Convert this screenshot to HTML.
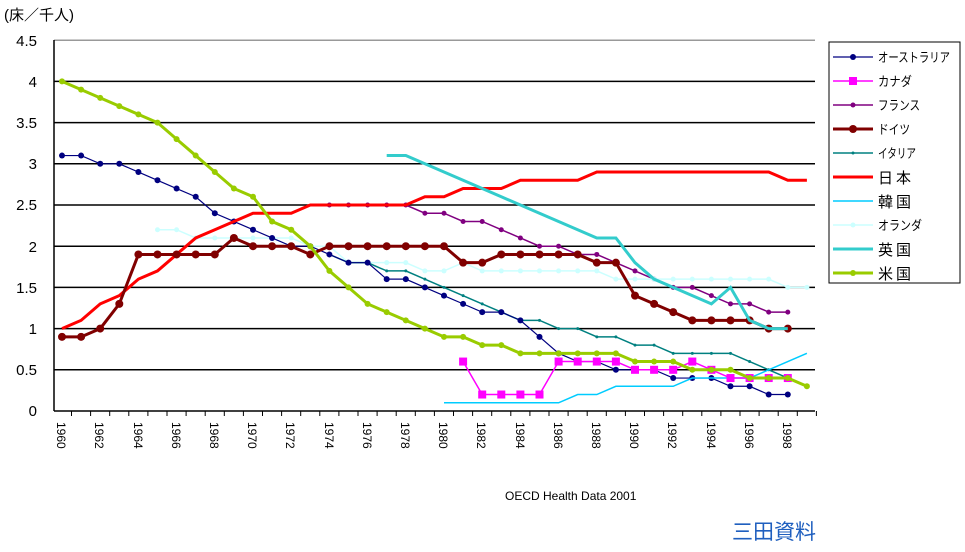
<!DOCTYPE html>
<html><head><meta charset="utf-8"><style>
body{margin:0;background:#fff;}
svg text{font-family:"Liberation Sans","Noto Sans CJK JP",sans-serif;}
</style></head><body>
<svg id="s" width="965" height="547" xmlns="http://www.w3.org/2000/svg">
<rect width="965" height="547" fill="#fff"/>
<text x="4" y="20" font-size="15">(床／千人)</text>
<g font-size="15" text-anchor="end">
<text x="37" y="46">4.5</text><text x="37" y="87">4</text><text x="37" y="128">3.5</text>
<text x="37" y="169">3</text><text x="37" y="210">2.5</text><text x="37" y="252">2</text>
<text x="37" y="293">1.5</text><text x="37" y="334">1</text><text x="37" y="375">0.5</text>
<text x="37" y="416">0</text>
</g>
<g id="grid"></g>
<g id="series"></g>
<text x="505" y="500" font-size="12">OECD Health Data 2001</text>
<text x="732" y="539" font-size="21" fill="#1f5fbf">三田資料</text>
<rect x="829" y="42" width="131" height="241" fill="#fff" stroke="#000" stroke-width="1"/>
<g id="leg"></g>
<g font-size="13">
<text x="878" y="62" textLength="72" lengthAdjust="spacingAndGlyphs">オーストラリア</text>
<text x="878" y="86" textLength="34" lengthAdjust="spacingAndGlyphs">カナダ</text>
<text x="878" y="110" textLength="42" lengthAdjust="spacingAndGlyphs">フランス</text>
<text x="878" y="134" textLength="32" lengthAdjust="spacingAndGlyphs">ドイツ</text>
<text x="878" y="158" textLength="38" lengthAdjust="spacingAndGlyphs">イタリア</text>
<text x="878" y="183" font-size="15" letter-spacing="3">日本</text>
<text x="878" y="207" font-size="15" letter-spacing="3">韓国</text>
<text x="878" y="230" textLength="44" lengthAdjust="spacingAndGlyphs">オランダ</text>
<text x="878" y="255" font-size="15" letter-spacing="3">英国</text>
<text x="878" y="279" font-size="15" letter-spacing="3">米国</text>
</g>
<g font-size="12">
<text transform="translate(57,422) rotate(90)">1960</text>
<text transform="translate(95,422) rotate(90)">1962</text>
<text transform="translate(134,422) rotate(90)">1964</text>
<text transform="translate(172,422) rotate(90)">1966</text>
<text transform="translate(210,422) rotate(90)">1968</text>
<text transform="translate(248,422) rotate(90)">1970</text>
<text transform="translate(286,422) rotate(90)">1972</text>
<text transform="translate(325,422) rotate(90)">1974</text>
<text transform="translate(363,422) rotate(90)">1976</text>
<text transform="translate(401,422) rotate(90)">1978</text>
<text transform="translate(439,422) rotate(90)">1980</text>
<text transform="translate(477,422) rotate(90)">1982</text>
<text transform="translate(516,422) rotate(90)">1984</text>
<text transform="translate(554,422) rotate(90)">1986</text>
<text transform="translate(592,422) rotate(90)">1988</text>
<text transform="translate(630,422) rotate(90)">1990</text>
<text transform="translate(668,422) rotate(90)">1992</text>
<text transform="translate(707,422) rotate(90)">1994</text>
<text transform="translate(745,422) rotate(90)">1996</text>
<text transform="translate(783,422) rotate(90)">1998</text>
</g>
</svg>
<script>
var NS="http://www.w3.org/2000/svg";
function X(y){return 62+(y-1960)*19.1;}
function Y(v){return 411-v*82.4;}
function el(p,t,a){var e=document.createElementNS(NS,t);for(var k in a)e.setAttribute(k,a[k]);p.appendChild(e);return e;}
var g=document.getElementById('grid');
for(var i=1;i<=9;i++){el(g,'line',{x1:54,x2:815,y1:Y(i*0.5),y2:Y(i*0.5),stroke:i==9?'#999':'#000','stroke-width':1.5});}
el(g,'line',{x1:54,x2:54,y1:40,y2:411,stroke:'#000','stroke-width':1.5});
el(g,'line',{x1:54,x2:815,y1:411,y2:411,stroke:'#000','stroke-width':1.5});
for(var yr=1960;yr<=1999;yr++){var x=X(yr)+9.5;el(g,'line',{x1:x,x2:x,y1:411,y2:416,stroke:'#000'});}
function ser(start,vals,color,w,mk){
 var pts=vals.map(function(v,i){return X(start+i)+','+Y(v);}).join(' ');
 var s=document.getElementById('series');
 el(s,'polyline',{points:pts,fill:'none',stroke:color,'stroke-width':w});
 if(mk){vals.forEach(function(v,i){var x=X(start+i),y=Y(v);
  if(mk=='sq')el(s,'rect',{x:x-4,y:y-4,width:8,height:8,fill:color});
  else el(s,'circle',{cx:x,cy:y,r:mk,fill:color});});}
}
var L=[
[1974,[2.5,2.5,2.5,2.5,2.5,2.4,2.4,2.3,2.3,2.2,2.1,2.0,2.0,1.9,1.9,1.8,1.7,1.6,1.5,1.5,1.4,1.3,1.3,1.2,1.2],'#800080',1.5,2.5],
[1965,[2.2,2.2,2.1,2.1,2.1,2.1,2.1,2.1,2.0,2.0,1.8,1.8,1.8,1.8,1.7,1.7,1.8,1.7,1.7,1.7,1.7,1.7,1.7,1.7,1.6,1.6,1.6,1.6,1.6,1.6,1.6,1.6,1.6,1.5,1.5],'#ccffff',1.5,2.5],
[1974,[1.9,1.8,1.8,1.7,1.7,1.6,1.5,1.4,1.3,1.2,1.1,1.1,1.0,1.0,0.9,0.9,0.8,0.8,0.7,0.7,0.7,0.7,0.6,0.5,0.4,0.3],'#008080',1.5,1.5],
[1960,[3.1,3.1,3.0,3.0,2.9,2.8,2.7,2.6,2.4,2.3,2.2,2.1,2.0,2.0,1.9,1.8,1.8,1.6,1.6,1.5,1.4,1.3,1.2,1.2,1.1,0.9,0.7,0.6,0.6,0.5,0.5,0.5,0.4,0.4,0.4,0.3,0.3,0.2,0.2],'#000080',1.2,3],
[1980,[0.1,0.1,0.1,0.1,0.1,0.1,0.1,0.2,0.2,0.3,0.3,0.3,0.3,0.4,0.4,0.4,0.4,0.5,0.6,0.7],'#00ccff',1.5,0],
[1981,[0.6,0.2,0.2,0.2,0.2,0.6,0.6,0.6,0.6,0.5,0.5,0.5,0.6,0.5,0.4,0.4,0.4,0.4],'#ff00ff',1.5,'sq'],
[1960,[1.0,1.1,1.3,1.4,1.6,1.7,1.9,2.1,2.2,2.3,2.4,2.4,2.4,2.5,2.5,2.5,2.5,2.5,2.5,2.6,2.6,2.7,2.7,2.7,2.8,2.8,2.8,2.8,2.9,2.9,2.9,2.9,2.9,2.9,2.9,2.9,2.9,2.9,2.8,2.8],'#ff0000',3,0],
[1960,[0.9,0.9,1.0,1.3,1.9,1.9,1.9,1.9,1.9,2.1,2.0,2.0,2.0,1.9,2.0,2.0,2.0,2.0,2.0,2.0,2.0,1.8,1.8,1.9,1.9,1.9,1.9,1.9,1.8,1.8,1.4,1.3,1.2,1.1,1.1,1.1,1.1,1.0,1.0],'#800000',3,4],
[1977,[3.1,3.1,3.0,2.9,2.8,2.7,2.6,2.5,2.4,2.3,2.2,2.1,2.1,1.8,1.6,1.5,1.4,1.3,1.5,1.1,1.0,1.0],'#33cccc',3,0],
[1960,[4.0,3.9,3.8,3.7,3.6,3.5,3.3,3.1,2.9,2.7,2.6,2.3,2.2,2.0,1.7,1.5,1.3,1.2,1.1,1.0,0.9,0.9,0.8,0.8,0.7,0.7,0.7,0.7,0.7,0.7,0.6,0.6,0.6,0.5,0.5,0.5,0.4,0.4,0.4,0.3],'#99cc00',3,3]
];
L.forEach(function(a){ser.apply(null,a);});
var lg=document.getElementById('leg');
var lc=[['#000080',1.2,3],['#ff00ff',1.5,'sq'],['#800080',1.5,2.5],['#800000',3,4],['#008080',1.5,1.5],['#ff0000',3,0],['#00ccff',1.5,0],['#ccffff',1.5,2.5],['#33cccc',3,0],['#99cc00',3,3]];
lc.forEach(function(c,i){var y=57+i*24;el(lg,'line',{x1:833,x2:873,y1:y,y2:y,stroke:c[0],'stroke-width':c[1]});
 if(c[2]=='sq')el(lg,'rect',{x:849,y:y-4,width:8,height:8,fill:c[0]});else if(c[2])el(lg,'circle',{cx:853,cy:y,r:c[2],fill:c[0]});});
</script>
</body></html>
